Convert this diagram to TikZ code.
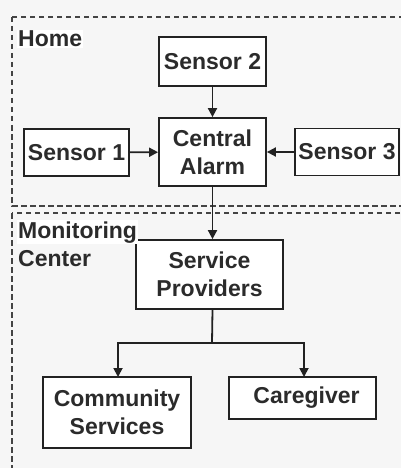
\documentclass[tikz,border=0pt]{standalone}
\usepackage{fontspec}
\setmainfont{Liberation Sans}
\usetikzlibrary{arrows.meta}
\definecolor{txt}{HTML}{2B2B2B}
\definecolor{ln}{HTML}{222222}
\definecolor{dsh}{HTML}{444444}
\definecolor{bg}{HTML}{F6F6F6}
\begin{document}
\begin{tikzpicture}[x=1pt,y=-1pt,
  every node/.style={font=\fontsize{23}{28}\selectfont\bfseries, text=txt},
  blk/.style={draw=ln, line width=1.8pt, fill=white, align=center, inner sep=0pt},
  region/.style={draw=dsh, line width=1.8pt, dash pattern=on 5.5pt off 3.5pt},
  arr/.style={draw=ln, line width=1.8pt, -{Triangle[length=9pt,width=9pt]}},
  lbl/.style={fill=white, inner sep=1pt, align=left}]
\useasboundingbox (0,0) rectangle (401,468);
\clip (0,0) rectangle (401,468);
\fill[bg] (0,0) rectangle (401,468);
% regions
\draw[region] (12,17) rectangle (415,206);
\draw[region] (12,213) rectangle (415,490);
% blocks
\node[blk, minimum width=107pt, minimum height=49pt] (s2) at (212.5,61.5) {Sensor 2};
\node[blk, minimum width=107pt, minimum height=68pt] (ca) at (212.5,152) {Central\\Alarm};
\node[blk, minimum width=105pt, minimum height=47pt] (s1) at (76.5,152.5) {Sensor 1};
\node[blk, minimum width=104pt, minimum height=47pt] (s3) at (347,152) {Sensor 3};
\node[blk, minimum width=147pt, minimum height=69pt] (sp) at (209.5,274.5) {Service\\Providers};
\node[blk, minimum width=148pt, minimum height=71pt] (cs) at (117,412.5) {Community\\Services};
\node[blk, minimum width=147pt, minimum height=42pt] (cg) at (302.5,398) {\hspace*{8pt}Caregiver};
% connectors
\draw[arr] (s2) -- (ca);
\draw[arr] (s1) -- (ca);
\draw[arr] (s3) -- (ca);
\draw[arr] (ca.south) -- (ca.south |- sp.north);
\coordinate (br) at (212,343);
\draw[draw=ln, line width=1.8pt] (ca.south |- sp.south) -- (br);
\draw[arr] (br) -| (118,377) coordinate (csin);
\draw[arr] (br) -| (304,377) coordinate (cgin);
% labels
\node[lbl, anchor=base west] (home) at (17,47) {Home};
\node[lbl, anchor=base west] (mon) at (17,238) {Monitoring};
\node[lbl, anchor=base west, fill=none] (cen) at (17,266) {Center};
\end{tikzpicture}
\end{document}
